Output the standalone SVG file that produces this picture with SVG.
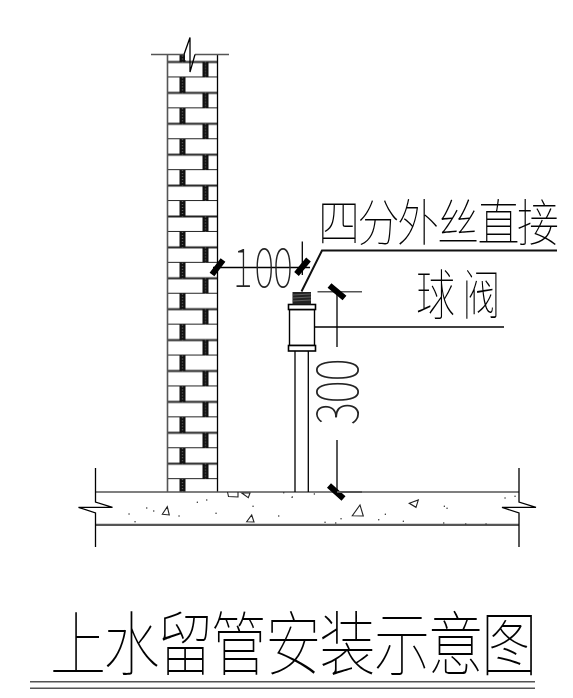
<svg xmlns="http://www.w3.org/2000/svg" width="573" height="698" viewBox="0 0 573 698">
<style>
.ln{fill:none;stroke:#000;stroke-width:1.3}
.gl{fill:none;stroke:#555;stroke-width:1.6}
.hv{fill:none;stroke:#111;stroke-width:2}
.tick{fill:none;stroke:#000;stroke-width:6}
.tri{fill:none;stroke:#222;stroke-width:1.1}
.cjk{font-family:"Noto Sans CJK SC",sans-serif;font-weight:100;fill:#000}
.num{font-family:"Noto Sans CJK SC",sans-serif;font-weight:100;fill:#222}
.dots{fill:none;stroke:#333;stroke-width:1.4;stroke-linecap:round}
</style>
<defs>
<pattern id="bricks" patternUnits="userSpaceOnUse" x="167" y="46.55" width="51" height="30.9">
<path d="M0 15.45H51M0 30.9H51" stroke="#222" stroke-width="2" fill="none"/>
<rect x="12.500" y="0" width="6" height="15.45" fill="#111"/>
<path d="M15.5 0V15.45" stroke="#666" stroke-width="1.4" stroke-dasharray="1 2"/>
<rect x="35.500" y="15.45" width="6" height="15.45" fill="#111"/>
<path d="M38.5 15.45V30.9" stroke="#666" stroke-width="1.4" stroke-dasharray="1 2"/>
</pattern>
</defs>
<g id="wall">
<rect x="167" y="54" width="51" height="438" fill="url(#bricks)"/>
<path class="gl" d="M167.500 54V492"/>
<path class="ln" d="M217.500 54V492"/>
<rect x="185" y="40" width="10" height="20" fill="#fff"/>
<path d="M151 54.500H184.500M195 54.500H229" fill="none" stroke="#555" stroke-width="1.600"/>
<path class="ln" d="M184 54.500L190 37.500V72L195 54.500"/>
</g>
<g id="floor">
<path class="gl" d="M95 492H519"/>
<path d="M95 524.800H519" fill="none" stroke="#555" stroke-width="2.200"/>
<path class="ln" d="M95.500 468V502L112.500 507.300H78.500L95.500 513V547"/>
<path class="ln" d="M519 468V502L536 507.300H502L519 513V547"/>
<path class="tri" d="M162.300 514.300L169.300 515L167.300 506.700ZM246.700 521.700L254 522L251.700 515ZM227.500 492L228.500 496.500L238 497V492M241.700 493L250 493L248.300 497.700ZM352.300 515.700L363.300 516L360 505ZM409.300 503.300L418.300 500L416 507.300Z"/>
<path class="dots" d="M129 514h.1M135 521.700h.1M146.700 508h.1M153.700 511h.1M179 516h.1M197.300 502.300h.1M206.700 500h.1M216 513.300h.1M253 506.300h.1M278.700 516h.1M283.700 492.700h.1M292 497.300h.1M292.300 497h.1M314.300 494h.1M341 518.700h.1M325 522.300h.1M335.700 523h.1M378.700 519.700h.1M385.300 514.300h.1M403.300 521.300h.1M443.700 523h.1M465.700 524h.1M486 524h.1M444.300 506.300h.1M447 508.300h.1M505 498h.1M515 496.300h.1"/>
</g>
<g id="valve">
<path class="ln" d="M295 351V492M308.300 351V492"/>
<rect x="289.500" y="309.500" width="25" height="36" fill="#fff" stroke="#000" stroke-width="1.400"/>
<rect x="288.500" y="304.500" width="27" height="5" fill="#fff" stroke="#000" stroke-width="1.600"/>
<rect x="288.500" y="345.500" width="27" height="5.500" fill="#fff" stroke="#000" stroke-width="1.600"/>
<rect x="292.500" y="292" width="18.500" height="12.500" fill="#222"/>
<path d="M292.500 295l18.500-1M292.500 298l18.500-1M292.500 301l18.500-1" stroke="#777" stroke-width=".7" fill="none"/>
</g>
<g id="connectors">
<path class="hv" d="M301.500 291.500L322 250.500H557"/>
<path class="ln" d="M314 327H504" stroke-width="1.500"/>
<path class="ln" d="M213 267.500H310M302.300 241.500V275"/>
<path class="tick" d="M212 274.500L223 260M296.500 274L308.500 259.500"/>
<path class="gl" d="M317.500 291.700H362"/>
<path class="ln" d="M337 291.700V347M337 440V492" stroke-width="1.500"/>
<path class="tick" d="M329.500 285.500L344.500 298M329 485.500L343.500 498.500"/>
<path d="M337 492H362" fill="none" stroke="#555" stroke-width="2"/>
</g>
<g id="labels" opacity=".99">
<text class="cjk" font-size="50" transform="translate(318 241) scale(.84 1)"><tspan x="0 47 94 142 190 237" y="0">四分外丝直接</tspan></text>
<text class="cjk" font-size="54" transform="translate(416 315) scale(.72 1)"><tspan x="0 64" y="0">球阀</tspan></text>
<text class="num" font-size="52" transform="translate(233 287) scale(.72 1)"><tspan x="0 30 56" y="0">100</tspan></text>
<text class="num" font-size="56" transform="translate(358 425) rotate(-90) scale(.78 1)"><tspan x="0 28 56" y="0">300</tspan></text>
</g>
<g id="title">
<text class="cjk" font-size="70" opacity=".99" transform="translate(50 670) scale(.8 1)"><tspan x="0 67 134 201 269 337 405 472 539" y="0">上水留管安装示意图</tspan></text>
<path class="gl" d="M30 681.700H535M30 688.300H535"/>
</g>
</svg>
